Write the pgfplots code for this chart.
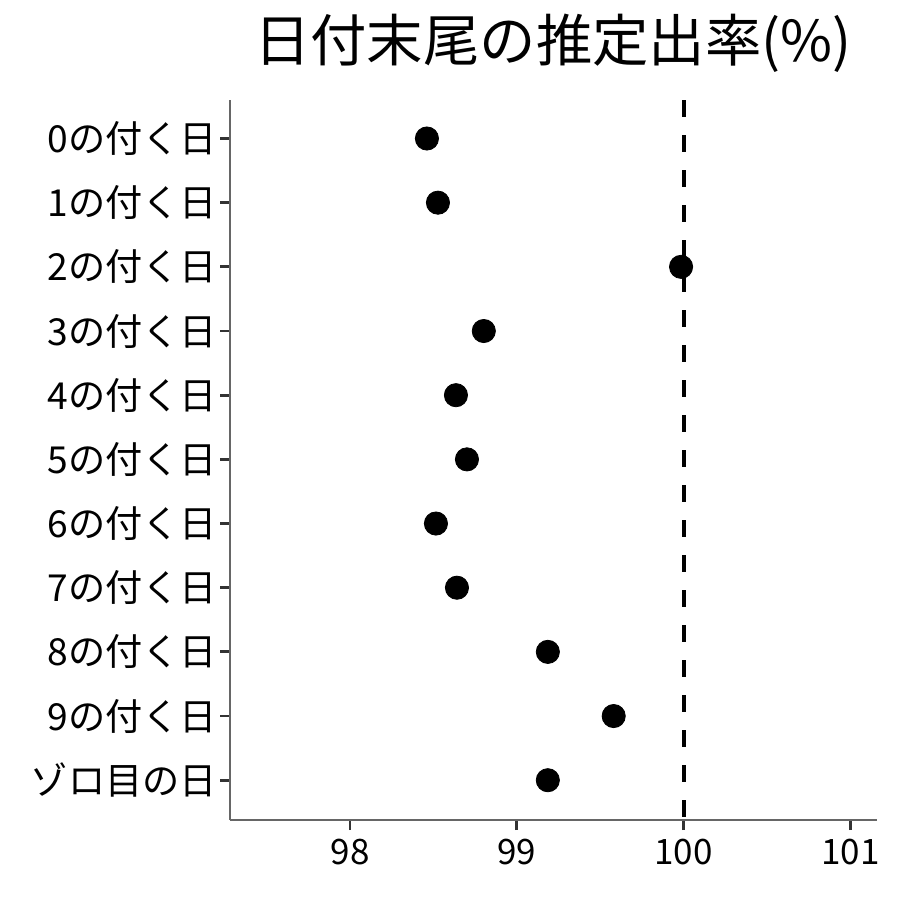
\documentclass[border=0pt]{standalone}
\usepackage{fontspec}
\setmainfont{Noto Sans CJK JP}
\usepackage{pgfplots}
\pgfplotsset{compat=1.18}
\begin{document}
\begin{tikzpicture}[x=1pt,y=1pt]
\useasboundingbox (0,0) rectangle (450,450);
\begin{axis}[
  at={(115pt,40pt)}, anchor=south west,
  scale only axis, width=323.5pt, height=360pt,
  xmin=97.28, xmax=101.16,
  ymin=-0.6, ymax=10.62, y dir=reverse,
  axis x line=bottom, axis y line=left,
  axis line style={black!60, line width=0.8pt, -},
  xtick={98,99,100,101},
  ytick={0,...,10},
  yticklabels={0の付く日,1の付く日,2の付く日,3の付く日,4の付く日,5の付く日,6の付く日,7の付く日,8の付く日,9の付く日,ゾロ目の日},
  tick align=outside, tick style={black!80, line width=1.4pt},
  major tick length=5pt,
  /pgf/number format/assume math mode=true,
  xticklabel style={yshift=-1pt, font=\fontsize{17.5}{20}\selectfont, text=black},
  yticklabel style={xshift=2pt, font=\fontsize{18.6}{21}\selectfont, text=black},
  clip=false,
]
\addplot[black, line width=2pt, dash pattern=on 8.5pt off 9pt] coordinates {(100,-0.6) (100,10.62)};
\addplot[only marks, mark=*, mark size=5.8pt, black] coordinates {
(98.461,0) (98.527,1) (99.985,2) (98.802,3) (98.635,4) (98.701,5)
(98.515,6) (98.641,7) (99.186,8) (99.581,9) (99.186,10)};
\end{axis}
\node[anchor=base, font=\fontsize{28.2}{30}\selectfont, inner sep=0pt] at (276.5,419) {日付末尾の推定出率(\%)};
\end{tikzpicture}
\end{document}
